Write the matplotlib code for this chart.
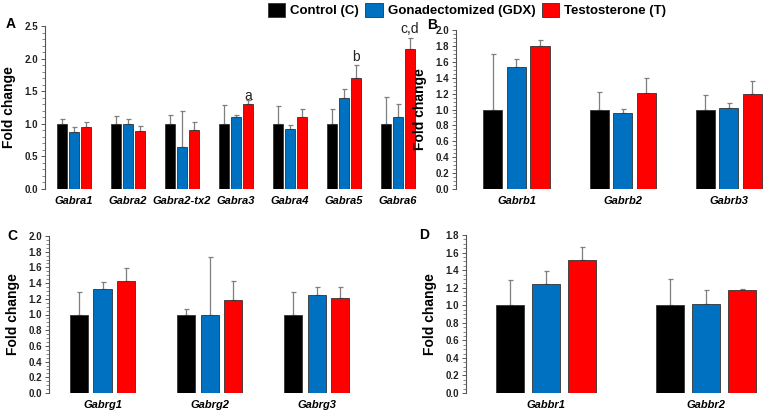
import matplotlib
matplotlib.use("Agg")
import matplotlib.pyplot as plt
import numpy as np
from matplotlib.patches import Patch
from matplotlib.ticker import MultipleLocator

plt.rcParams["font.family"] = ["Liberation Sans", "DejaVu Sans"]

GROUPS = ["Control (C)", "Gonadectomized (GDX)", "Testosterone (T)"]
COLORS = ["#000000", "#0070C0", "#FF0000"]

# Panel A
genes_a = ["Gabra1", "Gabra2", "Gabra2-tx2", "Gabra3", "Gabra4", "Gabra5", "Gabra6"]
mean_a = [[1.0, 1.0, 1.0, 1.0, 1.0, 1.0, 1.0],
          [0.88, 1.0, 0.65, 1.11, 0.92, 1.39, 1.10],
          [0.95, 0.89, 0.90, 1.30, 1.11, 1.71, 2.14]]
err_a = [[0.08, 0.12, 0.14, 0.29, 0.28, 0.23, 0.41],
         [0.07, 0.08, 0.55, 0.03, 0.06, 0.15, 0.20],
         [0.08, 0.07, 0.12, 0.06, 0.12, 0.19, 0.18]]
marks_a = {"Gabra3": ("a", 1.43), "Gabra5": ("b", 2.03), "Gabra6": ("c,d", 2.45)}

# Panel B
genes_b = ["Gabrb1", "Gabrb2", "Gabrb3"]
mean_b = [[1.0, 1.0, 1.0], [1.54, 0.95, 1.02], [1.80, 1.21, 1.19]]
err_b = [[0.70, 0.22, 0.18], [0.10, 0.06, 0.06], [0.07, 0.18, 0.17]]

# Panel C
genes_c = ["Gabrg1", "Gabrg2", "Gabrg3"]
mean_c = [[1.0, 1.0, 1.0], [1.33, 1.0, 1.25], [1.43, 1.18, 1.21]]
err_c = [[0.29, 0.07, 0.29], [0.09, 0.73, 0.10], [0.16, 0.25, 0.14]]

# Panel D
genes_d = ["Gabbr1", "Gabbr2"]
mean_d = [[1.0, 1.0], [1.24, 1.01], [1.51, 1.17]]
err_d = [[0.29, 0.30], [0.15, 0.16], [0.15, 0.01]]

W, H = 770, 416


def px_axes(fig, left, top, right, bottom):
    return fig.add_axes([left / W, 1 - bottom / H, (right - left) / W, (bottom - top) / H])


def draw_panel(ax, genes, means, errs, width, pitch, xlim, ylim, major, minor, letter, lx, ly):
    x = np.arange(len(genes))
    for i in range(3):
        ax.bar(x + (i - 1) * pitch, means[i], width=width, color=COLORS[i],
               edgecolor="#333333", linewidth=0.6, zorder=2)
        ax.errorbar(x + (i - 1) * pitch, means[i], yerr=[np.zeros(len(genes)), errs[i]],
                    fmt="none", ecolor="#7f7f7f", elinewidth=0.9, capsize=1.8,
                    capthick=0.9, zorder=1)
    ax.set_xlim(*xlim)
    ax.set_ylim(*ylim)
    ax.yaxis.set_major_locator(MultipleLocator(major))
    ax.yaxis.set_minor_locator(MultipleLocator(minor))
    ax.yaxis.set_major_formatter(plt.FormatStrFormatter("%.1f"))
    for s in ["top", "right", "bottom"]:
        ax.spines[s].set_visible(False)
    ax.spines["left"].set_color("#555555")
    ax.spines["left"].set_linewidth(0.8)
    ax.tick_params(axis="y", which="major", length=3, width=0.7, color="#555555",
                   labelsize=7, pad=2)
    ax.tick_params(axis="y", which="minor", length=2, width=0.5, color="#555555")
    for t in ax.get_yticklabels():
        t.set_fontweight("bold")
        t.set_color("#222222")
    ax.set_xticks(x)
    ax.set_xticklabels(genes, fontsize=8, fontweight="bold", style="italic")
    ax.tick_params(axis="x", length=0, pad=5)
    ax.set_ylabel("Fold change", fontsize=10, fontweight="bold", labelpad=6)
    ax.figure.text(lx / W, 1 - ly / H, letter, fontsize=10, fontweight="bold",
                   ha="center", va="center")
    return x


fig = plt.figure(figsize=(W / 100, H / 100), dpi=100)
fig.patch.set_facecolor("white")

ax_a = px_axes(fig, 45, 26, 425, 189)
x_a = draw_panel(ax_a, genes_a, mean_a, err_a, 0.185, 0.222, (-0.54, 6.5), (0, 2.5),
                 0.5, 0.1, "A", 11, 24)
for gene, (lab, y) in marks_a.items():
    k = genes_a.index(gene)
    ax_a.text(x_a[k] + 0.222, y, lab, ha="center", va="center", fontsize=10,
              color="#222222", clip_on=False)

ax_b = px_axes(fig, 456, 30, 768, 189)
draw_panel(ax_b, genes_b, mean_b, err_b, 0.18, 0.222, (-0.57, 2.37), (0, 2.0),
           0.2, 0.05, "B", 432, 25)

ax_c = px_axes(fig, 49, 236, 365, 393)
draw_panel(ax_c, genes_c, mean_c, err_c, 0.17, 0.22, (-0.5, 2.45), (0, 2.0),
           0.2, 0.05, "C", 12, 236)

ax_d = px_axes(fig, 466, 235, 770, 393)
draw_panel(ax_d, genes_d, mean_d, err_d, 0.175, 0.225, (-0.5, 1.4), (0, 1.8),
           0.2, 0.05, "D", 424, 235)

handles = [Patch(facecolor=c, edgecolor="#333333", linewidth=0.6) for c in COLORS]
leg = fig.legend(handles, GROUPS, loc="center", bbox_to_anchor=(467 / W, 1 - 10 / H),
                 ncol=3, frameon=False, fontsize=9.5, handlelength=1.3, handleheight=1.3,
                 handletextpad=0.4, columnspacing=0.5, borderpad=0)
for t in leg.get_texts():
    t.set_fontweight("bold")

fig.savefig("out.png", dpi=100, facecolor="white")
